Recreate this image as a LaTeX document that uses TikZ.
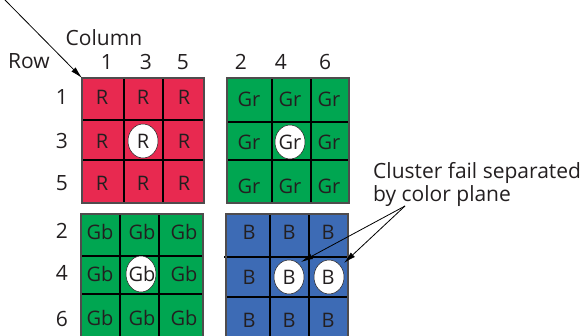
\documentclass[tikz,border=0pt]{standalone}
\usepackage{fontspec}
\setmainfont{Open Sans}
\usetikzlibrary{arrows.meta}
\definecolor{redp}{RGB}{232,41,80}
\definecolor{greenp}{RGB}{0,166,81}
\definecolor{bluep}{RGB}{61,107,181}
\definecolor{ink}{RGB}{35,31,32}
\tikzset{
  lab/.style={inner sep=0pt, text=ink, font=\fontsize{20}{22}\selectfont},
  axis/.style={inner sep=0pt, text=ink, font=\fontsize{21}{23}\selectfont},
  gridline/.style={draw=black, line width=1.4pt},
  frame/.style={draw=ink!80, line width=1.2pt},
  hole/.style={fill=white, draw=ink, line width=0.5pt},
  pointer/.style={draw=black, line width=0.8pt, -{Latex[length=12pt,width=6pt]}},
}
\begin{document}
\begin{tikzpicture}[x=1pt,y=-1pt]
\useasboundingbox (0,0) rectangle (586,335);
\clip (0,0) rectangle (586,335);

% red plane (odd rows, odd columns)
\fill[redp] (82,78) rectangle (204,203);
\draw[gridline] (124,78)--(124,203) (163,78)--(163,203) (82,120)--(204,120) (82,160)--(204,160);
\draw[frame] (82,78) rectangle (204,203);
\filldraw[hole] (143,141) ellipse (15 and 17);
\foreach \x/\c in {102/1,143/3,184/5}
  \foreach \y/\r in {97/1,141/3,183/5}
    \node[lab] (r\r\c) at (\x,\y) {R};

% green plane (odd rows, even columns)
\fill[greenp] (227,78) rectangle (349,203);
\draw[gridline] (272,78)--(272,203) (311,78)--(311,203) (227,122)--(349,122) (227,160)--(349,160);
\draw[frame] (227,78) rectangle (349,203);
\filldraw[hole] (290,142) ellipse (15 and 17);
\foreach \x/\c in {249/2,290/4,329/6}
  \foreach \y/\r in {99/1,142/3,186/5}
    \node[lab] (gr\r\c) at (\x,\y) {Gr};

% green plane (even rows, odd columns)
\fill[greenp] (81,214) rectangle (203,340);
\draw[gridline] (120,214)--(120,340) (159,214)--(159,340) (81,256)--(203,256) (81,294)--(203,294);
\draw[frame] (81,214) rectangle (203,340);
\filldraw[hole] (141,274) ellipse (15 and 18);
\foreach \x/\c in {100/1,142/3,184/5}
  \foreach \y/\r in {232/2,274/4,318/6}
    \node[lab] (gb\r\c) at (\x,\y) {Gb};

% blue plane (even rows, even columns)
\fill[bluep] (226,214) rectangle (348,340);
\draw[gridline] (270,214)--(270,340) (309,214)--(309,340) (224,257)--(348,257) (226,297)--(348,297);
\draw[frame] (226,214) rectangle (348,340);
\filldraw[hole] (289,277) ellipse (15 and 17);
\filldraw[hole] (329,277) ellipse (15 and 17);
\foreach \x/\c in {249/2,289/4,328/6}
  \foreach \y/\r in {232/2,277/4,320/6}
    \node[lab] (b\r\c) at (\x,\y) {B};

% axis labels
\node[axis] (column) at (104,38) {Column};
\node[axis] (row) at (29,61) {Row};
\foreach \x/\c in {107/1,146/3,183/5,241/2,281/4,325/6}
  \node[axis] (col\c) at (\x,62) {\c};
\foreach \y/\r in {97/1,141/3,183/5,231/2,273/4,319/6}
  \node[axis] (row\r) at (62,\y) {\r};

% corner pointer
\coordinate (origin) at (5,0);
\coordinate (corner) at (82,78);
\draw[pointer] (origin) -- (corner);

% cluster annotation
\node[axis, anchor=base west] (note) at (373,178) {Cluster fail separated};
\node[axis, anchor=base west] (note2) at (373,201) {by color plane};
\coordinate (fork) at (405,206);
\coordinate (hitA) at (301,262);
\coordinate (hitB) at (344,263);
\draw[pointer] (fork) -- (hitA);
\draw[pointer] (fork) -- (hitB);
\end{tikzpicture}
\end{document}
